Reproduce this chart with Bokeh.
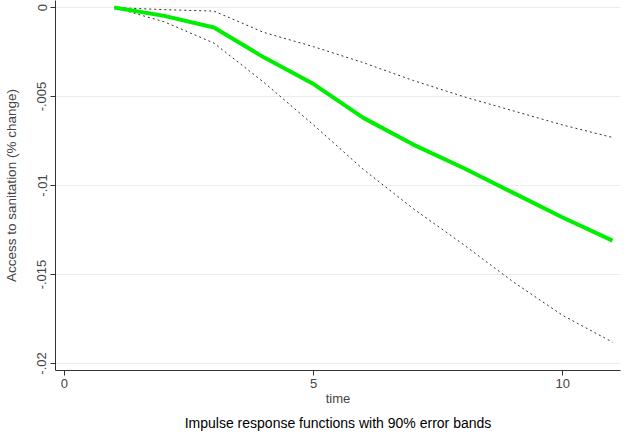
from bokeh.plotting import figure
from bokeh.models import Range1d, FixedTicker, Title
from bokeh.embed import file_html
from bokeh.resources import INLINE

# data
time = [1, 2, 3, 4, 5, 6, 7, 8, 9, 10, 11]
irf = [0.0, -0.00047, -0.00112, -0.0028, -0.0043, -0.0062, -0.0077, -0.0090, -0.0104, -0.0118, -0.0131]
upper = [0.0, -0.00012, -0.0002, -0.0014, -0.0022, -0.0031, -0.0041, -0.0050, -0.0058, -0.0066, -0.0073]
lower = [0.0, -0.0008, -0.0020, -0.0042, -0.0066, -0.0091, -0.0113, -0.0133, -0.0154, -0.0173, -0.0188]

x_ticks = [0, 5, 10]
y_ticks = [0.0, -0.005, -0.01, -0.015, -0.02]
y_tick_labels = ["0", "-.005", "-.01", "-.015", "-.02"]

FONT = "Liberation Sans"

p = figure(width=625, height=436, output_backend="svg", toolbar_location=None,
           x_range=Range1d(-0.18, 11.16), y_range=Range1d(-0.020394, 0.000394),
           min_border_left=52, min_border_right=5, min_border_top=0, min_border_bottom=66)

p.outline_line_color = None
p.background_fill_color = "white"
p.border_fill_color = "white"

# lines
p.line(time, upper, line_color="#333333", line_width=1, line_dash="2 3")
p.line(time, lower, line_color="#333333", line_width=1, line_dash="2 3")
p.line(time, irf, line_color="#00ee00", line_width=4)

# grid
p.xgrid.grid_line_color = None
p.ygrid.grid_line_color = "#e6eff0"
p.ygrid.grid_line_width = 1

# x axis
xa = p.xaxis[0]
xa.ticker = FixedTicker(ticks=x_ticks)
xa.minor_tick_line_color = None
xa.major_tick_out = 5
xa.major_tick_in = 0
xa.major_label_standoff = 3
xa.axis_label = "time"
xa.axis_label_standoff = 0
xa.axis_label_text_font = FONT
xa.axis_label_text_font_style = "normal"
xa.axis_label_text_font_size = "13px"
xa.major_label_text_font = FONT
xa.major_label_text_font_size = "13px"
xa.axis_line_color = "#333333"
xa.major_tick_line_color = "#333333"

# y axis
ya = p.yaxis[0]
ya.ticker = FixedTicker(ticks=y_ticks)
ya.major_label_overrides = {t: s for t, s in zip(y_ticks, y_tick_labels)}
ya.major_label_orientation = "vertical"
ya.minor_tick_line_color = None
ya.major_tick_out = 5
ya.major_tick_in = 0
ya.major_label_standoff = 4
ya.axis_label = "Access to sanitation (% change)"
ya.axis_label_standoff = 16
ya.axis_label_text_font = FONT
ya.axis_label_text_font_style = "normal"
ya.axis_label_text_font_size = "13.5px"
ya.major_label_text_font = FONT
ya.major_label_text_font_size = "13px"
ya.axis_line_color = "#333333"
ya.major_tick_line_color = "#333333"

cap = Title(text="Impulse response functions with 90% error bands", align="center",
            text_font=FONT, text_font_size="14px", text_font_style="normal",
            text_color="black", standoff=8)
p.add_layout(cap, "below")

open("out.html", "w").write(file_html(p, INLINE))
